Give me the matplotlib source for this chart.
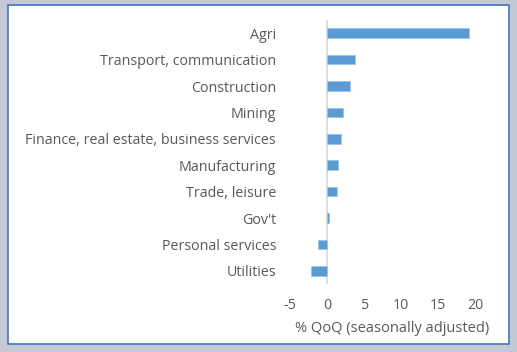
import matplotlib
matplotlib.use("Agg")
import matplotlib.pyplot as plt
from matplotlib.patches import Rectangle

categories = ["Agri", "Transport, communication", "Construction", "Mining",
              "Finance, real estate, business services", "Manufacturing",
              "Trade, leisure", "Gov't", "Personal services", "Utilities"]
values = [19.2, 3.8, 3.1, 2.1, 1.85, 1.45, 1.3, 0.3, -1.15, -2.1]
xticks = [-5, 0, 5, 10, 15, 20]
xlabel = "% QoQ (seasonally adjusted)"

plt.rcParams['font.family'] = ['Open Sans', 'DejaVu Sans']
text_color = "#595959"

fig = plt.figure(figsize=(5.17, 3.52), dpi=100)
fig.patch.set_facecolor("#c3cad5")
panel = Rectangle((8/517, 1-344/352), 501/517, 339/352, transform=fig.transFigure,
                  facecolor="white", edgecolor="#4472c4", linewidth=1.2, zorder=-5)
fig.patches.append(panel)

ax = fig.add_axes([290/517, 1-284/352, 185/517, 264/352])
ax.set_zorder(2)
ax.set_facecolor("none")
y = list(range(len(categories)))
ax.barh(y, values, height=0.36, color="#5b9bd5", edgecolor="#9dc3e6", linewidth=0.6, zorder=3)
ax.set_ylim(len(categories)-0.5, -0.5)
ax.set_xlim(-5, 20)
ax.set_xticks(xticks)
ax.set_xticklabels([str(t) for t in xticks])
ax.set_yticks(y)
ax.set_yticklabels(categories)
ax.tick_params(axis='both', length=0, colors=text_color, labelsize=10.3)
ax.tick_params(axis='y', pad=10)
ax.tick_params(axis='x', pad=10)
for s in ax.spines.values():
    s.set_visible(False)
ax.axvline(0, color="#d9d9d9", linewidth=1.2, zorder=2)
ax.set_xlabel(xlabel, color=text_color, fontsize=10.5, labelpad=4)
ax.xaxis.set_label_coords((392-290)/185, -0.14)

fig.savefig("out.png", dpi=100, facecolor=fig.get_facecolor())
